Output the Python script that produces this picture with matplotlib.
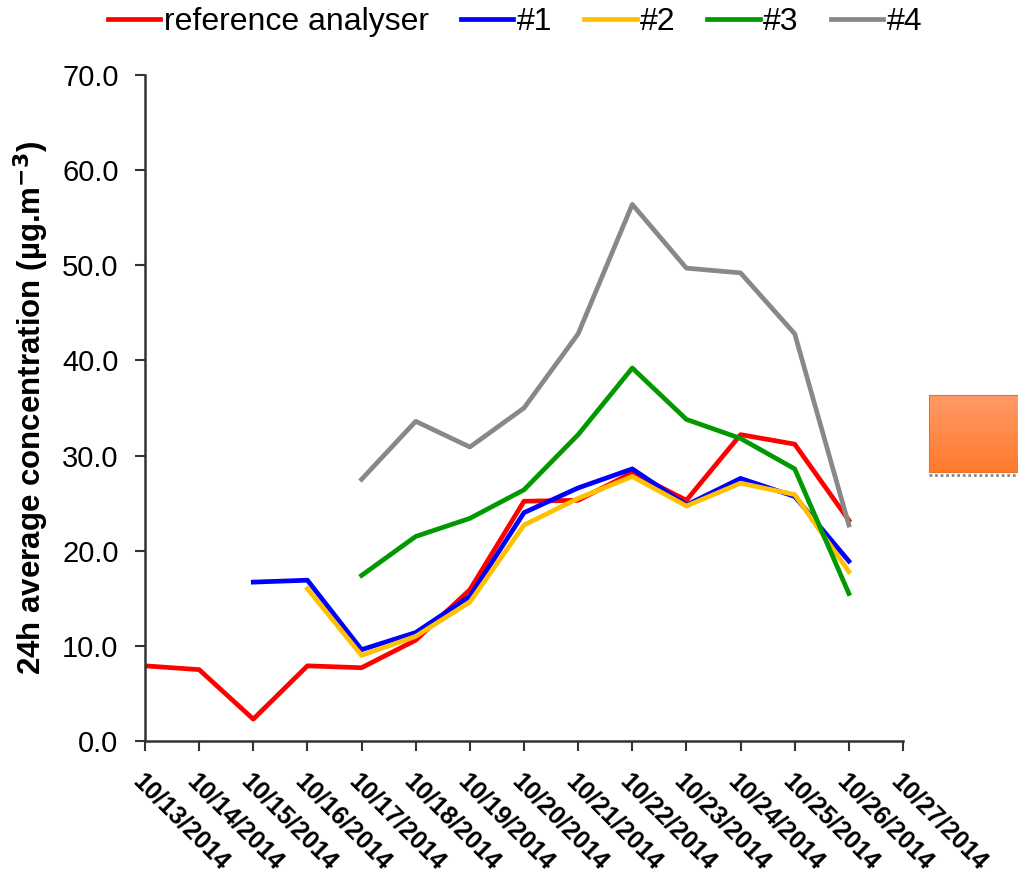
import numpy as np
import matplotlib.pyplot as plt
from matplotlib.colors import LinearSegmentedColormap

plt.rcParams['font.family'] = ['Liberation Sans', 'DejaVu Sans']

dates = ["10/13/2014", "10/14/2014", "10/15/2014", "10/16/2014", "10/17/2014",
         "10/18/2014", "10/19/2014", "10/20/2014", "10/21/2014", "10/22/2014",
         "10/23/2014", "10/24/2014", "10/25/2014", "10/26/2014", "10/27/2014"]
nan = np.nan
reference = [7.9, 7.5, 2.3, 7.9, 7.7, 10.6, 15.9, 25.2, 25.3, 28.2, 25.3, 32.2, 31.2, 23.2, nan]
s1 = [nan, nan, 16.7, 16.9, 9.6, 11.4, 15.2, 24.0, 26.6, 28.6, 24.8, 27.6, 25.7, 18.9, nan]
s2 = [nan, nan, nan, 16.0, 9.0, 11.0, 14.6, 22.7, 25.5, 27.8, 24.7, 27.1, 25.9, 17.8, nan]
s3 = [nan, nan, nan, nan, 17.4, 21.5, 23.4, 26.4, 32.2, 39.2, 33.8, 31.8, 28.6, 15.5, nan]
s4 = [nan, nan, nan, nan, 27.5, 33.6, 30.9, 35.0, 42.8, 56.4, 49.7, 49.2, 42.8, 22.7, nan]

series = [("reference analyser", reference, "#ff0000"),
          ("#1", s1, "#0000ff"),
          ("#2", s2, "#ffc000"),
          ("#3", s3, "#009900"),
          ("#4", s4, "#888888")]

fig = plt.figure(figsize=(10.18, 8.82), dpi=100)
ax = fig.add_axes([145/1018, 1-741/882, 758/1018, 666/882])

x = np.arange(len(dates))
for name, vals, col in series:
    ax.plot(x, vals, color=col, linewidth=3.4, label=name)

ax.set_xlim(0, len(dates)-1)
ax.set_ylim(0, 70)
yt = np.arange(0, 71, 10)
ax.set_yticks(yt)
ax.set_yticklabels(["%.1f" % v for v in yt], fontsize=21)
ax.set_xticks(x)
ax.set_xticklabels(dates, rotation=-45, ha='left', va='top', rotation_mode='anchor',
                   fontsize=18, fontweight='bold')
ax.tick_params(axis='x', length=7, width=1.5, pad=13, color='#333333')
ax.tick_params(axis='y', length=7, width=1.5, pad=12, color='#333333')
for s in ['top', 'right']:
    ax.spines[s].set_visible(False)
for s in ['left', 'bottom']:
    ax.spines[s].set_linewidth(1.8)
    ax.spines[s].set_color('#333333')

ax.set_ylabel("24h average concentration (µg.m$^{\\mathbf{-3}}$)", fontsize=22.5,
              fontweight='bold', labelpad=8)

fig.legend(loc='center', bbox_to_anchor=(515/1018, 1-22/882), ncol=5, frameon=False,
           fontsize=23, handlelength=1.65, handletextpad=0.1, columnspacing=1.0)

# orange shape at the right edge
box = fig.add_axes([929/1018, 1-472/882, 92/1018, 77/882])
grad = np.linspace(0, 1, 50).reshape(-1, 1)
cm = LinearSegmentedColormap.from_list("o", ["#ff9a66", "#ff7a2e"])
box.imshow(grad, aspect='auto', cmap=cm, extent=[0, 1, 0, 1], origin='upper')
box.set_xticks([])
box.set_yticks([])
for s in box.spines.values():
    s.set_color('#f07020')
fig.add_artist(plt.Line2D([929/1018, 1], [1-475/882, 1-475/882], color='#888888',
                          linewidth=2, linestyle=(0, (1, 1))))

fig.savefig("out.png", dpi=100)
